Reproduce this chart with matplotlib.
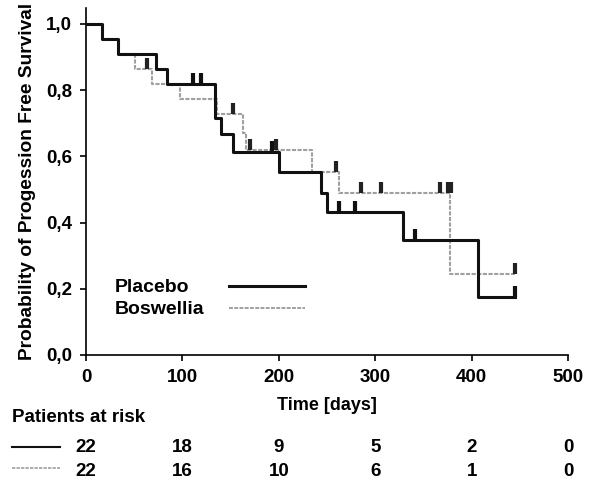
import matplotlib
matplotlib.use("Agg")
import matplotlib.pyplot as plt
from matplotlib.transforms import blended_transform_factory

plt.rcParams['font.family'] = ['Liberation Sans', 'DejaVu Sans']
plt.rcParams['font.weight'] = 'bold'

# ---- data ----
placebo_t = [0, 17, 33, 73, 84, 134, 140, 152, 200, 244, 250, 329, 407, 445]
placebo_s = [1.0, 0.955, 0.909, 0.864, 0.818, 0.716, 0.667, 0.614, 0.553, 0.49, 0.432, 0.347, 0.174, 0.174]
placebo_cens_t = [111, 119, 193, 262, 279, 341, 445]
placebo_cens_s = [0.818, 0.818, 0.614, 0.432, 0.432, 0.347, 0.174]

boswellia_t = [0, 17, 33, 51, 68, 97, 136, 163, 166, 234, 262, 378, 445]
boswellia_s = [1.0, 0.955, 0.909, 0.864, 0.818, 0.773, 0.727, 0.67, 0.62, 0.553, 0.489, 0.245, 0.245]
boswellia_cens_t = [63, 152, 170, 197, 259, 285, 306, 367, 376, 379, 445]
boswellia_cens_s = [0.864, 0.727, 0.62, 0.62, 0.553, 0.489, 0.489, 0.489, 0.489, 0.489, 0.245]

risk_times = [0, 100, 200, 300, 400, 500]
risk_placebo = [22, 18, 9, 5, 2, 0]
risk_boswellia = [22, 16, 10, 6, 1, 0]

yticks = [0.0, 0.2, 0.4, 0.6, 0.8, 1.0]
ytick_labels = ['0,0', '0,2', '0,4', '0,6', '0,8', '1,0']
xticks = [0, 100, 200, 300, 400, 500]

BLACK = '#111111'
GRAY = '#a0a0a0'
GRAY_LS = (0, (2, 0.7))

fig = plt.figure(figsize=(5.93, 4.87), dpi=100)
ax = fig.add_axes([86/593, 1-355/487, (568-86)/593, (355-8)/487])

ax.step(boswellia_t, boswellia_s, where='post', color=GRAY, lw=1.5,
        linestyle=GRAY_LS, zorder=2)
ax.step(placebo_t, placebo_s, where='post', color=BLACK, lw=2.2, zorder=3)

cm_h = 0.033
ax.vlines(placebo_cens_t, placebo_cens_s, [s + cm_h for s in placebo_cens_s],
          color=BLACK, lw=3, zorder=4)
ax.vlines(boswellia_cens_t, boswellia_cens_s, [s + cm_h for s in boswellia_cens_s],
          color='#222222', lw=3, zorder=4)

ax.set_xlim(0, 500)
ax.set_ylim(0, 1.048)
ax.set_xticks(xticks)
ax.set_xticklabels([str(x) for x in xticks], fontsize=13.5, fontweight='bold')
ax.set_yticks(yticks)
ax.set_yticklabels(ytick_labels, fontsize=13.5, fontweight='bold')
ax.tick_params(direction='out', length=4, width=1.2, pad=6)
for side in ['top', 'right']:
    ax.spines[side].set_visible(False)
for side in ['left', 'bottom']:
    ax.spines[side].set_linewidth(1.2)

ax.set_ylabel('Probability of Progession Free Survival', fontsize=13.8,
              fontweight='bold', labelpad=7)
ax.set_xlabel('Time [days]', fontsize=13, fontweight='bold', labelpad=8)

# legend (drawn manually to match position)
fig.text(115/593, 1-287/487, 'Placebo', fontsize=14, fontweight='bold', va='center')
fig.text(115/593, 1-309/487, 'Boswellia', fontsize=14, fontweight='bold', va='center')
fig.add_artist(plt.Line2D([229/593, 305/593], [1-286/487, 1-286/487], color=BLACK, lw=2.2))
fig.add_artist(plt.Line2D([229/593, 305/593], [1-308/487, 1-308/487], color=GRAY, lw=1.4,
                          linestyle=GRAY_LS))

# patients at risk table
fig.text(12/593, 1-417/487, 'Patients at risk', fontsize=13.5, fontweight='bold', va='center')
fig.add_artist(plt.Line2D([12/593, 60/593], [1-447/487, 1-447/487], color=BLACK, lw=1.5))
fig.add_artist(plt.Line2D([12/593, 60/593], [1-468/487, 1-468/487], color=GRAY, lw=1.2,
                          linestyle=GRAY_LS))
tr = blended_transform_factory(ax.transData, fig.transFigure)
for t, a, b in zip(risk_times, risk_placebo, risk_boswellia):
    ax.text(t, 1-447/487, str(a), transform=tr, ha='center', va='center',
            fontsize=13.5, fontweight='bold', clip_on=False)
    ax.text(t, 1-471/487, str(b), transform=tr, ha='center', va='center',
            fontsize=13.5, fontweight='bold', clip_on=False)

fig.savefig('out.png', dpi=100, facecolor='white')
